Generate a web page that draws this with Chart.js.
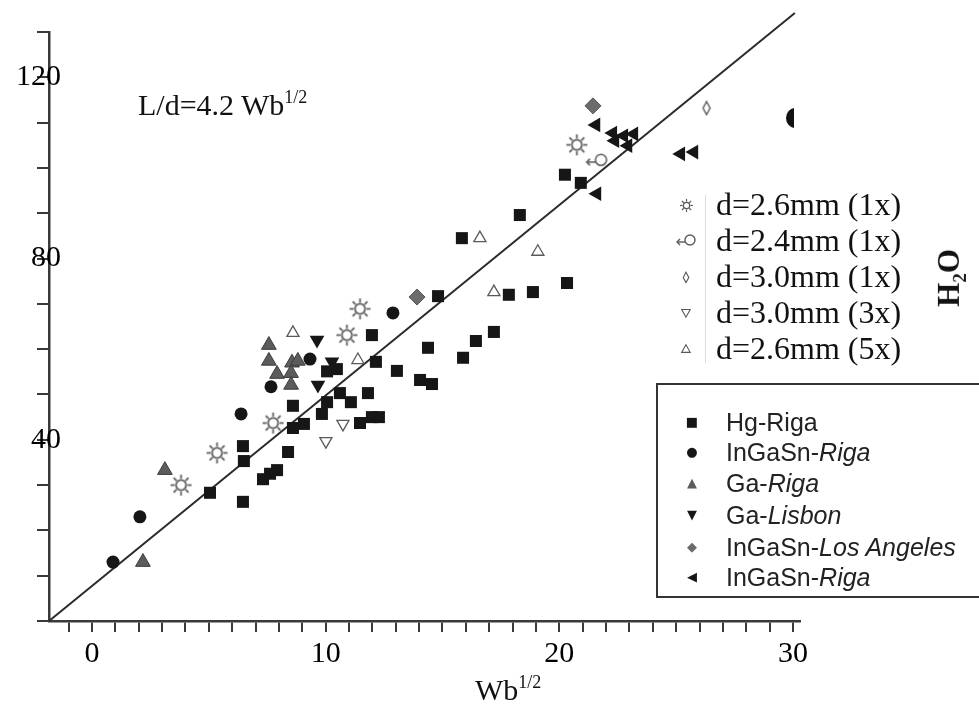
<!DOCTYPE html>
<html>
<head>
<meta charset="utf-8">
<script src="https://cdn.jsdelivr.net/npm/chart.js@4.4.0/dist/chart.umd.min.js"></script>
<style>
  html, body { margin: 0; padding: 0; background: #fff; }
  #wrap { position: relative; width: 979px; height: 704px; overflow: hidden;
          font-family: "Liberation Serif", "Times New Roman", serif; }
  #chart { position: absolute; left: 0; top: 0; }
  .txt { position: absolute; white-space: nowrap; color: #111; line-height: 1; }
  .sup { position: relative; font-size: 18px; top: -12px; }
  .key { position: absolute; left: 656px; top: 383px; width: 340px; height: 215px;
         border: 2px solid #333; box-sizing: border-box; }
  .krow { position: absolute; left: 0; height: 30px; line-height: 30px;
          font-family: "Liberation Sans", Arial, sans-serif; font-size: 25px; color: #222; }
  .krow .sym { position: absolute; left: 24px; width: 20px; text-align: center;
               font-family: "DejaVu Sans", sans-serif; font-size: 13px; }
  .krow .lab { position: absolute; left: 68px; white-space: nowrap; }
  .drow { position: absolute; left: 670px; height: 32px; }
  .drow img { position: absolute; }
  .drow span { position: absolute; left: 46px; top: 0; font-size: 32px; line-height: 1; white-space: nowrap; color: #111; }
</style>
</head>
<body>
<div id="wrap">
  <canvas id="chart" width="979" height="704"></canvas>
</div>
<script>
// values: [Wb^1/2, L/d]
const hgRiga = [
  [5.05, 28.3], [6.46, 38.6], [6.50, 35.3], [6.46, 26.3], [7.32, 31.3], [7.62, 32.5],
  [7.92, 33.3], [8.39, 37.3], [8.60, 47.5], [8.60, 42.6], [9.07, 43.5], [9.84, 45.7],
  [10.06, 48.3], [10.06, 55.1], [10.48, 55.6], [10.61, 50.3], [11.08, 48.3], [11.47, 43.7],
  [11.81, 50.3], [11.98, 45.0], [12.28, 45.0], [11.98, 63.1], [12.15, 57.2], [13.05, 55.2],
  [14.04, 53.2], [14.55, 52.3], [14.38, 60.3], [14.81, 71.7], [15.83, 84.5], [15.88, 58.1],
  [16.43, 61.8], [17.20, 63.8], [17.84, 72.0], [18.87, 72.6], [18.31, 89.6], [20.33, 74.6],
  [20.24, 98.5], [20.92, 96.7]
];
const ingasnRiga = [[0.90, 13.0], [2.05, 23.0], [6.38, 45.7], [7.66, 51.7], [9.33, 57.8], [12.88, 68.0]];
const gaRiga = [[2.18, 13.0], [3.12, 33.3], [7.57, 60.9], [7.57, 57.4], [7.92, 54.5],
                [8.56, 57.0], [8.81, 57.4], [8.52, 54.7], [8.52, 52.1]];
const gaLisbon = [[9.63, 62.0], [9.67, 52.1], [10.27, 57.2]];
const ingasnLA = [[13.91, 71.5], [21.44, 113.7]];
const ingasnRiga2 = [[21.57, 109.5], [22.29, 107.7], [22.38, 106.0], [22.76, 107.1], [23.19, 107.5],
                     [22.94, 104.9], [25.20, 103.1], [25.76, 103.5], [21.61, 94.3]];
const d26x1 = [[3.81, 30.0], [5.35, 37.1], [7.75, 43.7], [10.91, 63.1], [11.47, 68.9], [20.75, 105.1]];
const d24x1 = [[21.61, 101.5]];
const d30x1 = [[26.30, 113.2]];
const d30x3 = [[10.74, 43.5], [10.01, 39.7]];
const d26x5 = [[8.60, 63.6], [11.38, 57.6], [16.60, 84.5], [19.08, 81.5], [17.20, 72.6]];
const fitLine = [[-1.84, 0], [30.08, 134.2]];

const xTickLabels = [0, 10, 20, 30];
const yTickLabels = [40, 80, 120];

const serif = '"Liberation Serif", "Times New Roman", serif';

function pts(arr) { return arr.map(p => ({ x: p[0], y: p[1] })); }

// open "sun" marker
function sunIcon(r, lw) {
  const s = Math.ceil(r * 2 + 4), c = document.createElement('canvas');
  c.width = s; c.height = s;
  const g = c.getContext('2d'), m = s / 2;
  g.strokeStyle = '#5a5a5a'; g.lineWidth = lw;
  g.beginPath(); g.arc(m, m, r * 0.48, 0, Math.PI * 2); g.stroke();
  for (let i = 0; i < 8; i++) {
    const a = i * Math.PI / 4;
    g.beginPath();
    g.moveTo(m + r * 0.6 * Math.cos(a), m + r * 0.6 * Math.sin(a));
    g.lineTo(m + r * Math.cos(a), m + r * Math.sin(a));
    g.stroke();
  }
  return c;
}
// circle with a little arrow on its left
function arrowIcon(k) {
  const c = document.createElement('canvas');
  c.width = Math.ceil(22 * k); c.height = Math.ceil(16 * k);
  const g = c.getContext('2d');
  g.scale(k, k);
  g.strokeStyle = '#5a5a5a'; g.lineWidth = 1.4;
  g.beginPath(); g.arc(15, 7, 5, 0, Math.PI * 2); g.stroke();
  g.beginPath(); g.moveTo(10, 9); g.lineTo(2, 9); g.stroke();
  g.beginPath(); g.moveTo(5, 6); g.lineTo(2, 9); g.lineTo(5, 12); g.stroke();
  return c;
}
// narrow open diamond
function slimDiamond(k) {
  const c = document.createElement('canvas');
  c.width = Math.ceil(10 * k); c.height = Math.ceil(16 * k);
  const g = c.getContext('2d');
  g.scale(k, k);
  g.strokeStyle = '#5a5a5a'; g.lineWidth = 1.4;
  g.beginPath(); g.moveTo(5, 1.5); g.lineTo(8.5, 8); g.lineTo(5, 14.5); g.lineTo(1.5, 8); g.closePath(); g.stroke();
  return c;
}
function openTri(k, down) {
  const c = document.createElement('canvas');
  c.width = Math.ceil(14 * k); c.height = Math.ceil(14 * k);
  const g = c.getContext('2d');
  g.scale(k, k);
  g.strokeStyle = '#5a5a5a'; g.lineWidth = 1.3;
  g.beginPath();
  if (down) { g.moveTo(2, 3); g.lineTo(12, 3); g.lineTo(7, 12); }
  else { g.moveTo(7, 2); g.lineTo(12, 11); g.lineTo(2, 11); }
  g.closePath(); g.stroke();
  return c;
}

const sunMark = sunIcon(10.5, 1.7);
const arrowMark = arrowIcon(1.1);
const diamondMark = slimDiamond(1);

const ctx = document.getElementById('chart').getContext('2d');
const chart = new Chart(ctx, {
  type: 'scatter',
  data: {
    datasets: [
      { label: 'fit', data: pts(fitLine), showLine: true, borderColor: '#2a2a2a', borderWidth: 2,
        pointRadius: 0, clip: false, order: 5 },
      { label: 'Hg-Riga', data: pts(hgRiga), pointStyle: 'rect', pointRadius: 8.5,
        backgroundColor: '#161616', borderColor: '#161616', borderWidth: 0 },
      { label: 'InGaSn-Riga', data: pts(ingasnRiga), pointStyle: 'circle', pointRadius: 6.5,
        backgroundColor: '#161616', borderColor: '#161616', borderWidth: 0 },
      { label: 'Ga-Riga', data: pts(gaRiga), pointStyle: 'triangle', pointRadius: 8.5,
        backgroundColor: '#5c5c5c', borderColor: '#3c3c3c', borderWidth: 1 },
      { label: 'Ga-Lisbon', data: pts(gaLisbon), pointStyle: 'triangle', rotation: 180, pointRadius: 8.5,
        backgroundColor: '#161616', borderColor: '#161616', borderWidth: 0 },
      { label: 'InGaSn-Los Angeles', data: pts(ingasnLA), pointStyle: 'rectRot', pointRadius: 8,
        backgroundColor: '#6c6c6c', borderColor: '#555', borderWidth: 1 },
      { label: 'InGaSn-Riga 2', data: pts(ingasnRiga2), pointStyle: 'triangle', rotation: 270, pointRadius: 8.5,
        backgroundColor: '#161616', borderColor: '#161616', borderWidth: 0 },
      { label: 'd=2.6mm (1x)', data: pts(d26x1), pointStyle: sunMark },
      { label: 'd=2.4mm (1x)', data: pts(d24x1), pointStyle: arrowMark },
      { label: 'd=3.0mm (1x)', data: pts(d30x1), pointStyle: diamondMark },
      { label: 'd=3.0mm (3x)', data: pts(d30x3), pointStyle: 'triangle', rotation: 180, pointRadius: 7,
        backgroundColor: '#fff', borderColor: '#5a5a5a', borderWidth: 1.3 },
      { label: 'd=2.6mm (5x)', data: pts(d26x5), pointStyle: 'triangle', pointRadius: 7,
        backgroundColor: '#fff', borderColor: '#5a5a5a', borderWidth: 1.3 }
    ]
  },
  options: {
    responsive: false,
    animation: false,
    layout: { padding: { top: 32, right: 179, left: 0, bottom: 0 } },
    plugins: { legend: { display: false }, tooltip: { enabled: false } },
    scales: {
      x: {
        type: 'linear', min: -1.84, max: 30.3,
        afterFit(s) { s.height = 83; },
        border: { display: true, color: '#3a3a3a', width: 2.5 },
        grid: { drawOnChartArea: false, drawTicks: true, tickLength: 11, color: '#3a3a3a', lineWidth: 2 },
        ticks: {
          stepSize: 1, includeBounds: false, autoSkip: false, maxRotation: 0, padding: 4, color: '#000',
          font: { family: serif, size: 30 },
          callback: v => {
            const r = Math.round(v);
            return Math.abs(v - r) < 1e-6 && xTickLabels.includes(r) ? String(r) : '';
          }
        }
      },
      y: {
        min: 0, max: 130,
        afterFit(s) { s.width = 49; },
        border: { display: true, color: '#3a3a3a', width: 2.5 },
        grid: { drawOnChartArea: false, drawTicks: true, tickLength: 12, color: '#3a3a3a', lineWidth: 2 },
        ticks: {
          stepSize: 10, autoSkip: false, mirror: true, crossAlign: 'far', padding: -33, color: '#000',
          font: { family: serif, size: 30 },
          callback: v => {
            const r = Math.round(v);
            return Math.abs(v - r) < 1e-6 && yTickLabels.includes(r) ? String(r) : '';
          }
        }
      }
    }
  }
});

// text and keys around the plot
const wrap = document.getElementById('wrap');
function addHtml(html) { wrap.insertAdjacentHTML('beforeend', html); }

addHtml('<div class="txt" style="left:138px;top:90px;font-size:30px;">L/d=4.2 Wb<span class="sup">1/2</span></div>');
addHtml('<div class="txt" style="left:475px;top:675px;font-size:30px;">Wb<span class="sup">1/2</span></div>');
addHtml('<div class="txt" style="left:951px;top:278px;font-size:31px;font-weight:bold;transform:translate(-50%,-50%) rotate(-90deg);">H<sub style="font-size:19px;">2</sub>O</div>');
addHtml('<div style="position:absolute;left:786px;top:108px;width:8px;height:20px;overflow:hidden;"><div style="width:18px;height:20px;border-radius:50%;background:#111;"></div></div>');
addHtml('<div style="position:absolute;left:705px;top:195px;width:1px;height:168px;background:#ddd;"></div>');

// upper key: the open symbols
const openKeys = [
  { label: 'd=2.6mm (1x)', icon: sunIcon(6.5, 1.2) },
  { label: 'd=2.4mm (1x)', icon: arrowIcon(1) },
  { label: 'd=3.0mm (1x)', icon: slimDiamond(0.8) },
  { label: 'd=3.0mm (3x)', icon: openTri(0.85, true) },
  { label: 'd=2.6mm (5x)', icon: openTri(0.85, false) }
];
openKeys.forEach((k, i) => {
  const top = 188 + i * 36;
  const w = k.icon.width, h = k.icon.height;
  addHtml('<div class="drow" style="top:' + top + 'px;">' +
    '<img src="' + k.icon.toDataURL() + '" style="left:' + (16 - w / 2) + 'px;top:' + (17 - h / 2) + 'px;">' +
    '<span>' + k.label + '</span></div>');
});

// lower key: the liquid metal series
const metalKeys = [
  { sym: '\u25A0', color: '#161616', html: 'Hg-Riga' },
  { sym: '\u25CF', color: '#161616', html: 'InGaSn-<i>Riga</i>' },
  { sym: '\u25B2', color: '#5c5c5c', html: 'Ga-<i>Riga</i>' },
  { sym: '\u25BC', color: '#161616', html: 'Ga-<i>Lisbon</i>' },
  { sym: '\u25C6', color: '#6c6c6c', html: 'InGaSn-<i>Los Angeles</i>' },
  { sym: '\u25C0', color: '#161616', html: 'InGaSn-<i>Riga</i>' }
];
const keyRowsY = [422, 452, 483, 515, 547, 577];
let keyHtml = '<div class="key">';
metalKeys.forEach((k, i) => {
  keyHtml += '<div class="krow" style="top:' + (keyRowsY[i] - 15 - 383 - 2) + 'px;">' +
    '<span class="sym" style="color:' + k.color + ';">' + k.sym + '</span>' +
    '<span class="lab">' + k.html + '</span></div>';
});
keyHtml += '</div>';
addHtml(keyHtml);
</script>
</body>
</html>
